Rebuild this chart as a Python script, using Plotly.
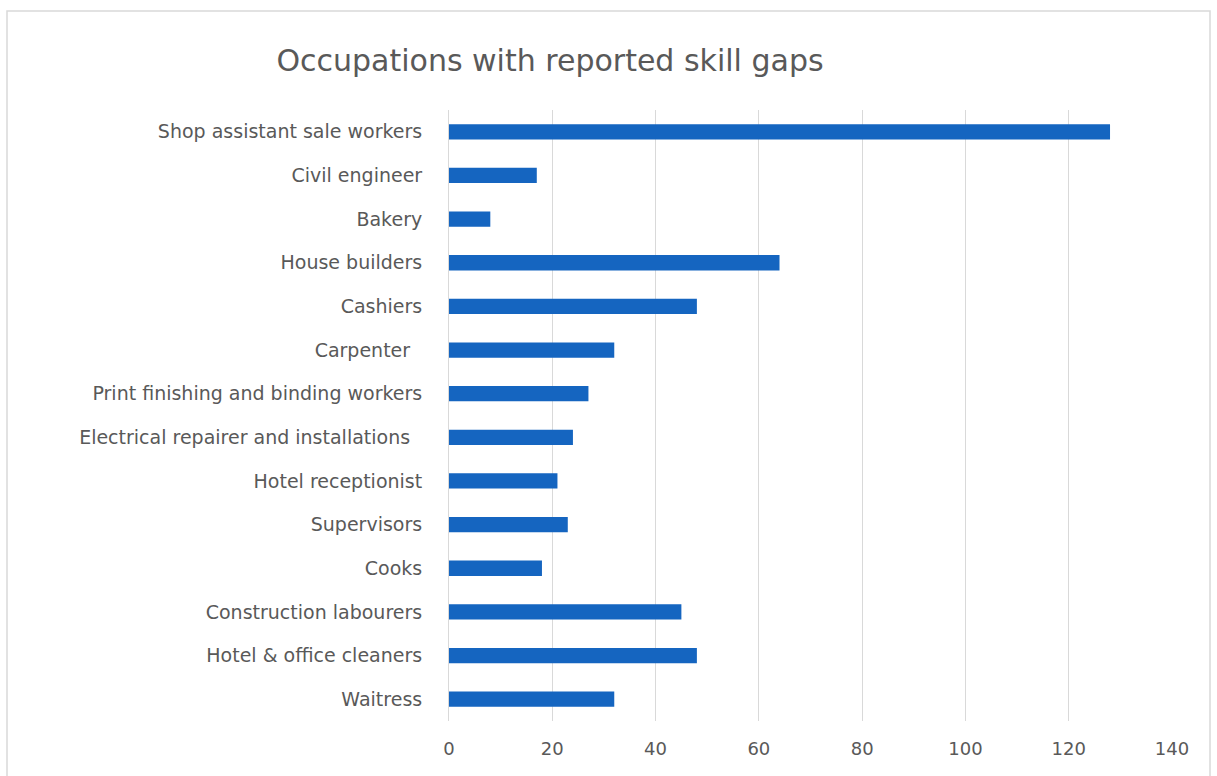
import plotly.graph_objects as go

# Occupations, listed top to bottom as displayed
occupations = [
    "Shop assistant sale workers",
    "Civil engineer",
    "Bakery",
    "House builders",
    "Cashiers",
    "Carpenter\u00a0\u00a0",
    "Print finishing and binding workers",
    "Electrical repairer and installations\u00a0\u00a0",
    "Hotel receptionist",
    "Supervisors",
    "Cooks",
    "Construction labourers",
    "Hotel & office cleaners",
    "Waitress",
]
skill_gap_counts = [128, 17, 8, 64, 48, 32, 27, 24, 21, 23, 18, 45, 48, 32]
x_ticks = [0, 20, 40, 60, 80, 100, 120, 140]

W, H = 1217, 776
text_grey = "#595959"
label_font = "DejaVu Sans, Verdana, sans-serif"

fig = go.Figure(
    go.Bar(
        x=skill_gap_counts,
        y=occupations,
        orientation="h",
        marker=dict(color="#1565C0", line=dict(width=0)),
        hoverinfo="x+y",
    )
)

fig.update_layout(
    width=W,
    height=H,
    margin=dict(l=449, r=45, t=110, b=55),
    paper_bgcolor="white",
    plot_bgcolor="white",
    bargap=0.65,
    showlegend=False,
    font=dict(family=label_font, color=text_grey, size=18),
    title=dict(
        text="Occupations with reported skill gaps",
        x=550 / W,
        xanchor="center",
        xref="container",
        y=1 - 60 / H,
        yanchor="middle",
        yref="container",
        font=dict(family=label_font, size=30, color=text_grey),
    ),
    xaxis=dict(
        range=[0, 140],
        tickvals=x_ticks,
        showgrid=True,
        gridcolor="#d9d9d9",
        gridwidth=1,
        zeroline=False,
        showline=False,
        ticks="",
        ticklabelstandoff=15,
        tickfont=dict(size=18, color=text_grey),
    ),
    yaxis=dict(
        categoryorder="array",
        categoryarray=occupations,
        autorange="reversed",
        showgrid=False,
        zeroline=False,
        showline=True,
        linecolor="#d9d9d9",
        linewidth=1,
        ticks="",
        ticklabelstandoff=22,
        tickfont=dict(size=19, color=text_grey),
    ),
    shapes=[
        dict(
            type="rect",
            xref="paper",
            yref="paper",
            x0=(7 - 449) / (W - 449 - 45),
            x1=(1210 - 449) / (W - 449 - 45),
            y0=(H - 55 - 790) / (H - 110 - 55),
            y1=(H - 55 - 11) / (H - 110 - 55),
            line=dict(color="#d9d9d9", width=1.5),
            fillcolor="rgba(0,0,0,0)",
            layer="below",
        )
    ],
)

fig.write_html("out.html")
